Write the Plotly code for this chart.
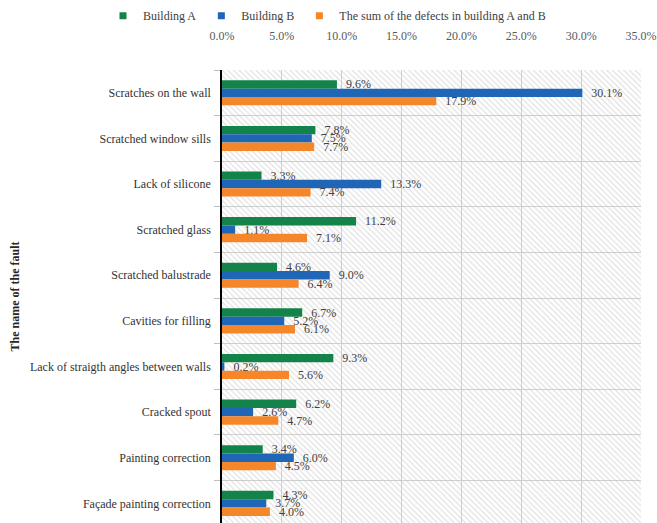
import plotly.graph_objects as go

categories = [
    "Scratches on the wall",
    "Scratched window sills",
    "Lack of silicone",
    "Scratched glass",
    "Scratched balustrade",
    "Cavities for filling",
    "Lack of straigth angles between walls",
    "Cracked spout",
    "Painting correction",
    "Façade painting correction",
]
building_a = [9.6, 7.8, 3.3, 11.2, 4.6, 6.7, 9.3, 6.2, 3.4, 4.3]
building_b = [30.1, 7.5, 13.3, 1.1, 9.0, 5.2, 0.2, 2.6, 6.0, 3.7]
building_sum = [17.9, 7.7, 7.4, 7.1, 6.4, 6.1, 5.6, 4.7, 4.5, 4.0]
series_names = ["Building A", "Building B", "The sum of the defects in building A and B"]
series_colors = ["#14834a", "#1f66b6", "#f5872a"]
x_ticks = [0, 5, 10, 15, 20, 25, 30, 35]
x_tick_labels = ["0.0%", "5.0%", "10.0%", "15.0%", "20.0%", "25.0%", "30.0%", "35.0%"]

SERIF = "Liberation Serif, Times New Roman, serif"

fig = go.Figure()

# decorative hatched plot-area background (on hidden base axes)
fig.add_trace(go.Bar(
    x=[0.5], y=[1], width=[1], base=[0],
    xaxis="x", yaxis="y",
    marker=dict(color="rgba(0,0,0,0)", line=dict(width=0),
                pattern=dict(shape="\\", fgcolor="#c4c4c4", size=4, solidity=0.3)),
    showlegend=False, hoverinfo="skip",
))

for name, vals, col in zip(series_names, [building_a, building_b, building_sum], series_colors):
    fig.add_trace(go.Bar(
        name=name, x=vals, y=categories, orientation="h",
        xaxis="x2", yaxis="y2",
        marker=dict(color=col, line=dict(width=0)),
        text=vals, texttemplate="\u00a0\u00a0%{x:.1f}%", textposition="outside",
        constraintext="none", cliponaxis=False,
        textfont=dict(family=SERIF, size=12, color="#404040"),
        showlegend=False,
    ))

# legend entries with small square markers
for name, col in zip(series_names, series_colors):
    fig.add_trace(go.Scatter(
        name=name, x=[None], y=[None], mode="markers",
        xaxis="x2", yaxis="y2",
        marker=dict(symbol="square", size=7, color=col),
        showlegend=True,
    ))

fig.update_layout(
    width=657, height=523,
    margin=dict(l=222, r=16, t=70, b=0, autoexpand=False),
    paper_bgcolor="white", plot_bgcolor="white",
    barmode="group", bargap=0.45, bargroupgap=0,
    font=dict(family=SERIF, size=12, color="#404040"),
    xaxis=dict(range=[0, 1], visible=False, fixedrange=True),
    yaxis=dict(range=[0, 1], visible=False, fixedrange=True),
    xaxis2=dict(
        overlaying="x", anchor="y2", side="top",
        range=[0, 35], tickvals=x_ticks, ticktext=x_tick_labels,
        showgrid=True, gridcolor="#d0d0d0", gridwidth=1,
        zeroline=False, showline=False, ticks="",
        ticklabelstandoff=27, automargin=False,
        tickfont=dict(family=SERIF, size=12, color="#595959"),
    ),
    yaxis2=dict(
        overlaying="y", anchor="x2",
        type="category", categoryorder="array", categoryarray=categories,
        range=[9.43, -0.5],
        tickson="boundaries", showgrid=True, gridcolor="#d0d0d0", gridwidth=1,
        ticks="outside", ticklen=6, tickcolor="#bfbfbf",
        ticklabelstandoff=7,
        showline=True, linecolor="#000000", linewidth=1.5,
        zeroline=False, automargin=False,
        tickfont=dict(family=SERIF, size=12, color="#333333"),
        title=dict(text="<b>The name of the fault</b>", standoff=8,
                   font=dict(family=SERIF, size=12, color="#262626")),
    ),
    legend=dict(
        orientation="h", xref="paper", yref="paper",
        x=-0.284, y=1.152, xanchor="left", yanchor="top",
        font=dict(family=SERIF, size=12, color="#404040"),
        itemwidth=30, traceorder="normal", bgcolor="rgba(0,0,0,0)",
    ),
)

fig.write_html("out.html")
